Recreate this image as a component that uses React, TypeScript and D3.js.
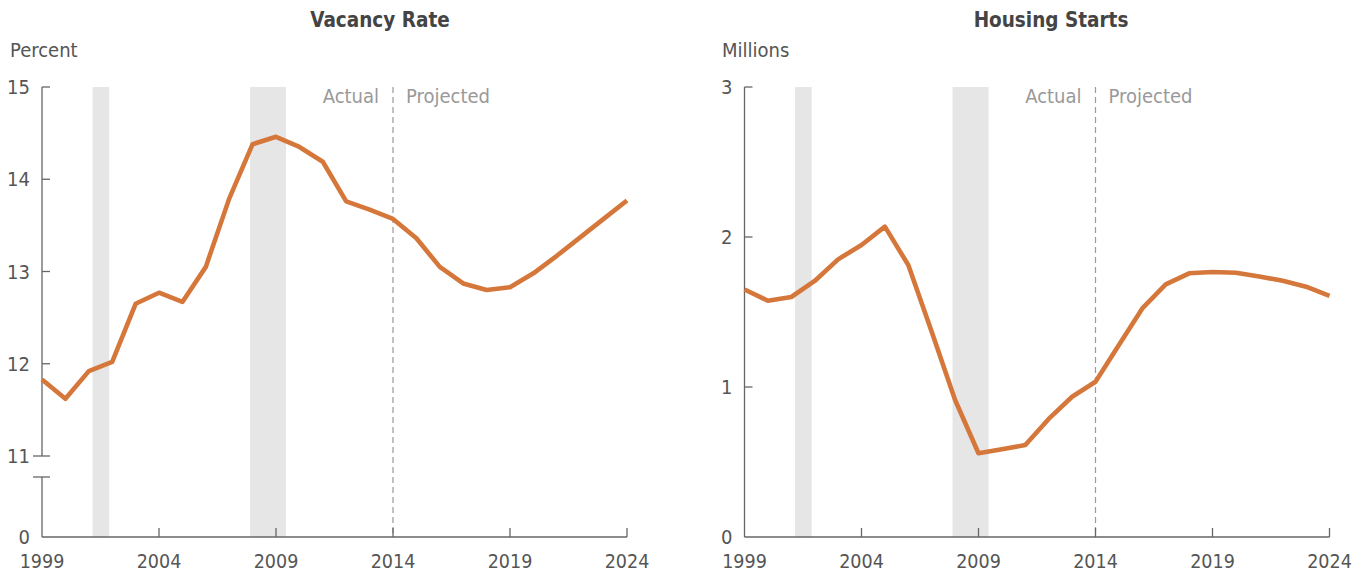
import React from "react";
import * as d3 from "d3";

const years: number[] = [1999,2000,2001,2002,2003,2004,2005,2006,2007,2008,2009,2010,2011,2012,2013,2014,2015,2016,2017,2018,2019,2020,2021,2022,2023,2024];
const vacancyRate: number[] = [11.83,11.62,11.92,12.02,12.65,12.77,12.67,13.05,13.79,14.38,14.46,14.35,14.19,13.76,13.67,13.57,13.36,13.05,12.87,12.80,12.83,12.98,13.17,13.37,13.57,13.77];
const housingStarts: number[] = [1.65,1.575,1.60,1.707,1.851,1.947,2.069,1.813,1.369,0.913,0.558,0.585,0.613,0.787,0.935,1.035,1.28,1.524,1.684,1.758,1.767,1.762,1.736,1.709,1.669,1.607];
const xTicks: number[] = [1999,2004,2009,2014,2019,2024];
const vacancyTicks: number[] = [0,11,12,13,14,15];
const startsTicks: number[] = [0,1,2,3];
const recessionStarts: number[] = [2001.16, 2007.89];
const recessionEnds: number[] = [2001.87, 2009.43];
const projectionYear = 2014;
const titles: string[] = ["Vacancy Rate", "Housing Starts"];
const units: string[] = ["Percent", "Millions"];
const phaseLabels: string[] = ["Actual", "Projected"];

const FONT = "'Liberation Sans Narrow', 'DejaVu Sans Condensed', 'Roboto', sans-serif";
const LINE = "#D5773A";
const AXIS = "#666";
const TEXT = "#555";

type PanelProps = {
  x0: number;
  titleX: number;
  unitX: number;
  title: string;
  unit: string;
  values: number[];
  ticks: number[];
  yScale: d3.ScaleLinear<number, number>;
  broken: boolean;
};

const TOP = 87;
const BOTTOM = 537;
const WIDTH = 585;

function Panel({ x0, titleX, unitX, title, unit, values, ticks, yScale, broken }: PanelProps) {
  const x = d3.scaleLinear().domain([1999, 2024]).range([x0, x0 + WIDTH]);
  const line = d3.line<number>()
    .x((_, i) => x(years[i]))
    .y((d) => yScale(d));
  const path = line(values) || "";
  const breakTop = yScale(11);
  const breakBottom = breakTop + 21;
  return (
    <g>
      <text x={titleX} y={27} textAnchor="middle" fontFamily={FONT} fontWeight="bold" fontSize={20.5} fill="#444">{title}</text>
      <text x={unitX} y={57} fontFamily={FONT} fontSize={20} fill={TEXT}>{unit}</text>
      {recessionStarts.map((s, i) => (
        <rect key={i} x={x(s)} y={TOP} width={x(recessionEnds[i]) - x(s)} height={BOTTOM - TOP} fill="#E6E6E6" />
      ))}
      <line x1={x(projectionYear)} x2={x(projectionYear)} y1={TOP} y2={BOTTOM} stroke="#9a9a9a" strokeWidth={1.2} strokeDasharray="6,4" />
      <text x={x(projectionYear) - 14} y={103} textAnchor="end" fontFamily={FONT} fontSize={20} fill="#999">{phaseLabels[0]}</text>
      <text x={x(projectionYear) + 13} y={103} textAnchor="start" fontFamily={FONT} fontSize={20} fill="#999">{phaseLabels[1]}</text>
      {broken ? (
        <g>
          <line x1={x0} x2={x0} y1={TOP} y2={breakTop} stroke={AXIS} strokeWidth={1.3} />
          <line x1={x0} x2={x0} y1={breakBottom} y2={BOTTOM} stroke={AXIS} strokeWidth={1.3} />
          <line x1={x0 - 9} x2={x0 + 8} y1={breakBottom} y2={breakBottom} stroke={AXIS} strokeWidth={1.3} />
        </g>
      ) : (
        <line x1={x0} x2={x0} y1={TOP} y2={BOTTOM} stroke={AXIS} strokeWidth={1.3} />
      )}
      {ticks.map((t) => (
        <g key={t}>
          {t !== 0 && (
            <line x1={broken && t === 11 ? x0 - 9 : x0} x2={x0 + 8} y1={yScale(t)} y2={yScale(t)} stroke={AXIS} strokeWidth={1.3} />
          )}
          <text x={x0 - 12} y={yScale(t)} dy="0.35em" textAnchor="end" fontFamily={FONT} fontSize={20} fill={TEXT}>{t}</text>
        </g>
      ))}
      <line x1={x0} x2={x0 + WIDTH} y1={BOTTOM} y2={BOTTOM} stroke={AXIS} strokeWidth={1.3} />
      {xTicks.map((t) => (
        <g key={t}>
          {t !== 1999 && <line x1={x(t)} x2={x(t)} y1={BOTTOM - 9} y2={BOTTOM} stroke={AXIS} strokeWidth={1.3} />}
          <text x={x(t)} y={568} textAnchor="middle" fontFamily={FONT} fontSize={19.5} fill={TEXT}>{t}</text>
        </g>
      ))}
      <path d={path} fill="none" stroke={LINE} strokeWidth={4.6} strokeLinejoin="round" strokeLinecap="butt" />
    </g>
  );
}

export default function App() {
  const yVac = d3.scaleLinear().domain([0, 11, 15]).range([BOTTOM, 456, TOP]);
  const yStarts = d3.scaleLinear().domain([0, 3]).range([BOTTOM, TOP]);
  return (
    <svg width={1362} height={573} style={{ position: "absolute", left: 0, top: 0, background: "#fff" }}>
      <rect x={0} y={0} width={1362} height={573} fill="#fff" />
      <Panel x0={42} titleX={380} unitX={10} title={titles[0]} unit={units[0]} values={vacancyRate} ticks={vacancyTicks} yScale={yVac} broken={true} />
      <Panel x0={744.5} titleX={1051} unitX={722} title={titles[1]} unit={units[1]} values={housingStarts} ticks={startsTicks} yScale={yStarts} broken={false} />
    </svg>
  );
}
